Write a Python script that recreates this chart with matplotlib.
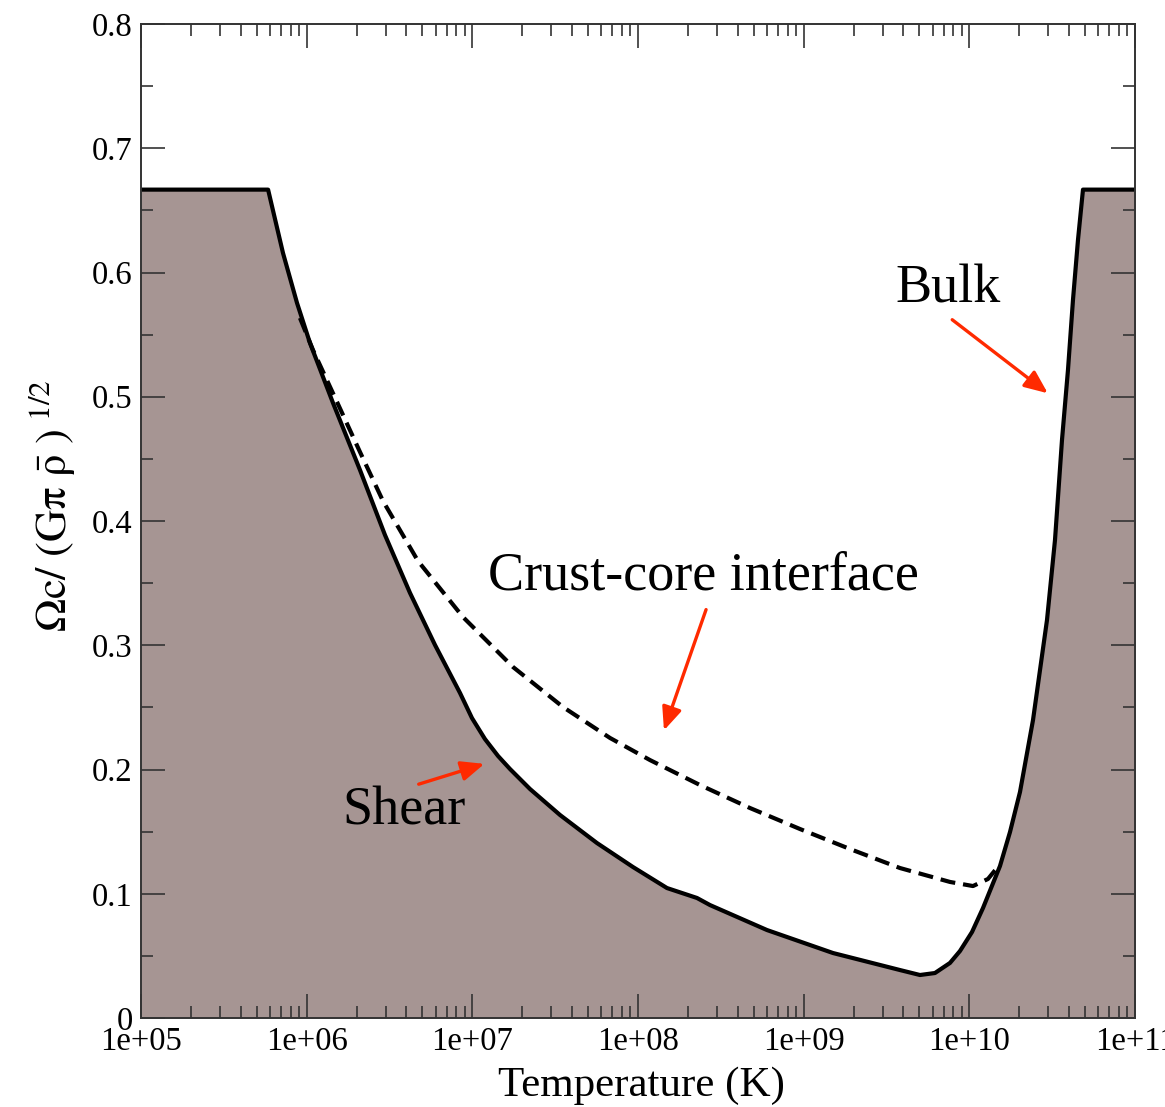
import numpy as np
import matplotlib
matplotlib.use('Agg')
import matplotlib.pyplot as plt
from matplotlib.ticker import FixedLocator, FixedFormatter, LogLocator, MultipleLocator, NullFormatter
from matplotlib.patches import FancyArrowPatch

plt.rcParams['font.family'] = ['Liberation Serif', 'DejaVu Serif']
plt.rcParams['mathtext.fontset'] = 'stix'

# ---- data ----
# stability boundary (solid line): plateau, shear branch, bulk branch, plateau
boundary_T = [1e5, 5.85e5, 7.196e5, 8.744e5, 1.047e6, 1.442e6, 2.099e6, 2.970e6,
              4.205e6, 5.953e6, 8.425e6, 9.95e6, 1.192e7, 1.429e7, 1.688e7,
              2.229e7, 3.382e7, 5.656e7, 9.328e7, 1.496e8, 2.270e8, 2.720e8,
              6.005e8, 1.503e9, 3.814e9, 5.036e9, 6.20e9, 7.64e9, 8.78e9,
              1.038e10, 1.209e10, 1.531e10, 1.760e10, 2.022e10, 2.423e10,
              2.943e10, 3.289e10, 3.625e10, 3.939e10, 4.223e10, 4.527e10,
              4.853e10, 1.1e11]
boundary_v = [0.6667, 0.6667, 0.6157, 0.5755, 0.5433, 0.4950, 0.4410, 0.3887,
              0.3421, 0.3002, 0.2616, 0.2414, 0.2245, 0.2109, 0.2004,
              0.1843, 0.1634, 0.1408, 0.1215, 0.1046, 0.0966, 0.0909,
              0.0708, 0.0523, 0.0386, 0.0346, 0.0362, 0.0443, 0.0539,
              0.0692, 0.0885, 0.1223, 0.1497, 0.1819, 0.2398,
              0.3203, 0.3847, 0.4652, 0.5215, 0.5779, 0.6262,
              0.6667, 0.6667]

# crust-core interface (dashed line)
interface_T = [9.11e5, 1.092e6, 1.525e6, 2.099e6, 2.888e6, 4.699e6, 8.782e6,
               1.760e7, 3.525e7, 6.774e7, 1.181e8, 2.367e8, 4.742e8, 9.502e8,
               1.904e9, 3.814e9, 7.642e9, 1.052e10, 1.296e10, 1.50e10]
interface_v = [0.5634, 0.5376, 0.4958, 0.4555, 0.4161, 0.3678, 0.3227,
               0.2825, 0.2503, 0.2254, 0.2076, 0.1875, 0.1690, 0.1521,
               0.1360, 0.1207, 0.1095, 0.1062, 0.1119, 0.1223]

x_ticks = [1e5, 1e6, 1e7, 1e8, 1e9, 1e10, 1e11]
x_tick_labels = ['1e+05', '1e+06', '1e+07', '1e+08', '1e+09', '1e+10', '1e+11']
y_ticks = [0, 0.1, 0.2, 0.3, 0.4, 0.5, 0.6, 0.7, 0.8]
y_tick_labels = ['0', '0.1', '0.2', '0.3', '0.4', '0.5', '0.6', '0.7', '0.8']

fill_color = '#A69593'
arrow_color = '#FF2A00'

fig = plt.figure(figsize=(11.65, 11.07), dpi=100)
ax = fig.add_axes([141/1165, 1 - 1018/1107, 994/1165, 994/1107])

ax.fill_between(boundary_T, 0, boundary_v, color=fill_color, lw=0, zorder=1)
ax.plot(boundary_T, boundary_v, color='black', lw=3.0, solid_joinstyle='round', zorder=3)
ax.plot(interface_T, interface_v, color='black', lw=3.0, dashes=(3.6, 1.9), zorder=3)

ax.set_xscale('log')
ax.set_xlim(1e5, 1e11)
ax.set_ylim(0, 0.8)

ax.xaxis.set_major_locator(FixedLocator(x_ticks))
ax.xaxis.set_major_formatter(FixedFormatter(x_tick_labels))
ax.xaxis.set_minor_locator(LogLocator(base=10, subs=np.arange(2, 10)))
ax.xaxis.set_minor_formatter(NullFormatter())
ax.yaxis.set_major_locator(FixedLocator(y_ticks))
ax.yaxis.set_major_formatter(FixedFormatter(y_tick_labels))
ax.yaxis.set_minor_locator(MultipleLocator(0.05))

ax.tick_params(which='both', direction='in', top=True, right=True, color='#333333', width=1.2)
ax.tick_params(which='major', length=17, labelsize=23.5, pad=6)
ax.tick_params(which='minor', length=8.5)
for s in ax.spines.values():
    s.set_linewidth(1.4)
    s.set_color('#333333')
    s.set_zorder(4)

ax.set_xlabel('Temperature (K)', fontsize=31)
ax.xaxis.set_label_coords(0.503, -0.049)

fig.text(52/1165, 1 - 506/1107, r'$\Omega\mathrm{c}/\ (\mathrm{G}\mathrm{\pi}\ \bar{\mathrm{\rho}}\ )^{\ 1/2}$',
         rotation=90, ha='center', va='center', fontsize=32)

# annotations
ax.text(0.812, 0.7334, 'Bulk', transform=ax.transAxes, fontsize=39, ha='center', va='center')
ax.text(0.5654, 0.4447, 'Crust-core interface', transform=ax.transAxes, fontsize=39, ha='center', va='center')
ax.text(0.2646, 0.2083, 'Shear', transform=ax.transAxes, fontsize=39, ha='center', va='center')

for (x0, y0), (x1, y1) in [((0.8139, 0.7042), (0.9145, 0.6268)),
                           ((0.5694, 0.4135), (0.5252, 0.2867)),
                           ((0.2767, 0.2344), (0.3481, 0.2565))]:
    arr = FancyArrowPatch((x0, y0), (x1, y1), transform=ax.transAxes,
                          arrowstyle='-|>,head_length=0.7,head_width=0.3',
                          mutation_scale=20, color=arrow_color, lw=2.4, zorder=5)
    ax.add_patch(arr)

fig.savefig('out.png', dpi=100)
